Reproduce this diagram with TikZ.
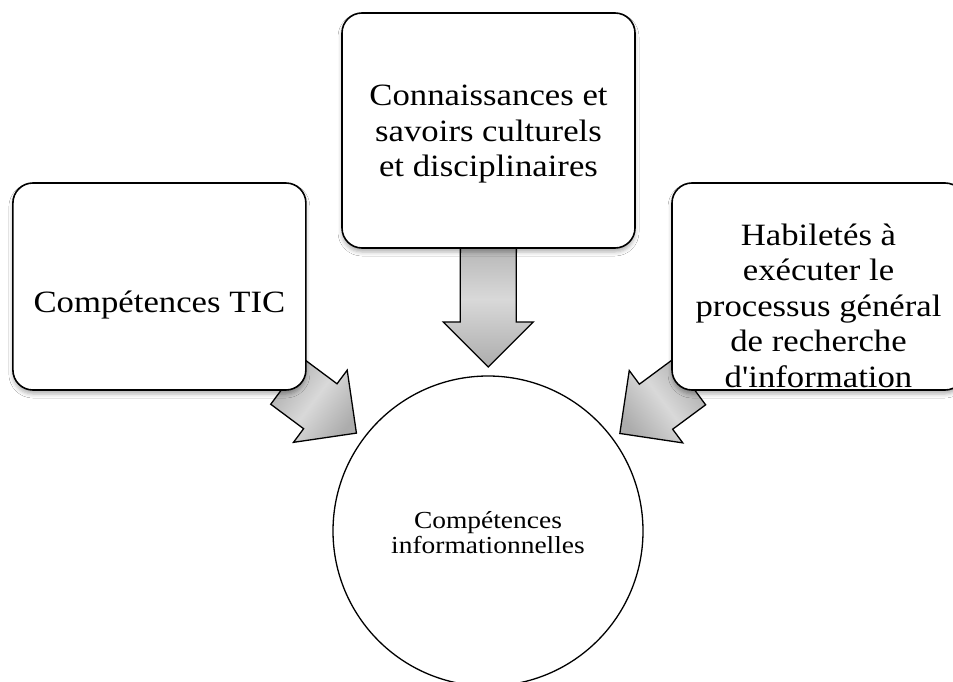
\documentclass[tikz,border=0pt]{standalone}
\usepackage{fontspec}
\setmainfont{Liberation Serif}[FakeStretch=1.12, Ligatures=TeXOff]
\usetikzlibrary{calc,shadows.blur}
\tikzset{
  boxstyle/.style={draw=black, line width=1.6pt, fill=white, rounded corners=20pt,
    minimum width=293pt, inner sep=0pt,
    blur shadow={shadow xshift=0pt, shadow yshift=-4pt, shadow blur radius=4pt, shadow opacity=30}},
  bigtext/.style={align=center, font=\fontsize{31pt}{35.5pt}\selectfont, inner sep=0pt},
  smalltext/.style={align=center, font=\fontsize{24.5pt}{25pt}\selectfont, inner sep=0pt},
  circstyle/.style={draw=black, line width=1.3pt, fill=white, circle, minimum size=310pt, inner sep=0pt},
  arrowstyle/.style={draw=black, line width=1.3pt, line join=miter,
    left color=gray!65, right color=gray!65, middle color=gray!30}
}
\newcommand\blockarr[3]{%
  \coordinate (hb) at ($(#1)!45pt!(#2)$);
  \path[arrowstyle, shading angle=#3]
    ($(#2)!28pt!90:(#1)$) -- ($(hb)!28pt!90:(#1)$) -- ($(hb)!45pt!90:(#1)$) -- (#1)
    -- ($(hb)!45pt!-90:(#1)$) -- ($(hb)!28pt!-90:(#1)$) -- ($(#2)!28pt!-90:(#1)$) -- cycle;
}
\begin{document}
\begin{tikzpicture}[x=1pt,y=-1pt]
\useasboundingbox (0,0) rectangle (953,682);
\clip (0,0) rectangle (953,682);
\fill[white] (0,0) rectangle (953,682);
% anchor positions
\coordinate (cc) at (488,531);
\coordinate (lc) at (159.4,286.5);
\coordinate (tc) at (488.5,130.5);
\coordinate (rc) at (818.5,286.5);
% arrow geometry (tips and bases)
\coordinate (ltip) at ($(cc)!164pt!(lc)$);
\coordinate (lbase) at ($(cc)!250pt!(lc)$);
\coordinate (ttip) at ($(cc)!164pt!(tc)$);
\coordinate (tbase) at ($(cc)!300pt!(tc)$);
\coordinate (rtip) at ($(cc)!164pt!(rc)$);
\coordinate (rbase) at ($(cc)!250pt!(rc)$);
\blockarr{ltip}{lbase}{53}
\blockarr{ttip}{tbase}{0}
\blockarr{rtip}{rbase}{-53}
% boxes
\node[boxstyle, minimum height=207pt] (left) at (lc) {};
\node[boxstyle, minimum height=235pt] (top) at (tc) {};
\node[boxstyle, minimum height=207pt] (right) at (rc) {};
\node[bigtext] (lefttext) at ($(left.center)+(0,19)$) {Compétences TIC};
\node[bigtext] (toptext) at ($(top.center)+(0,4)$) {Connaissances et\\savoirs culturels\\et disciplinaires};
\node[bigtext] (righttext) at ($(right.center)+(0,19)$) {Habiletés à\\exécuter le\\processus général\\de recherche\\d'information};
% circle
\node[circstyle] (circ) at (cc) {};
\node[smalltext] (circtext) at ($(circ.center)+(0,2)$) {Compétences\\informationnelles};
\end{tikzpicture}
\end{document}
